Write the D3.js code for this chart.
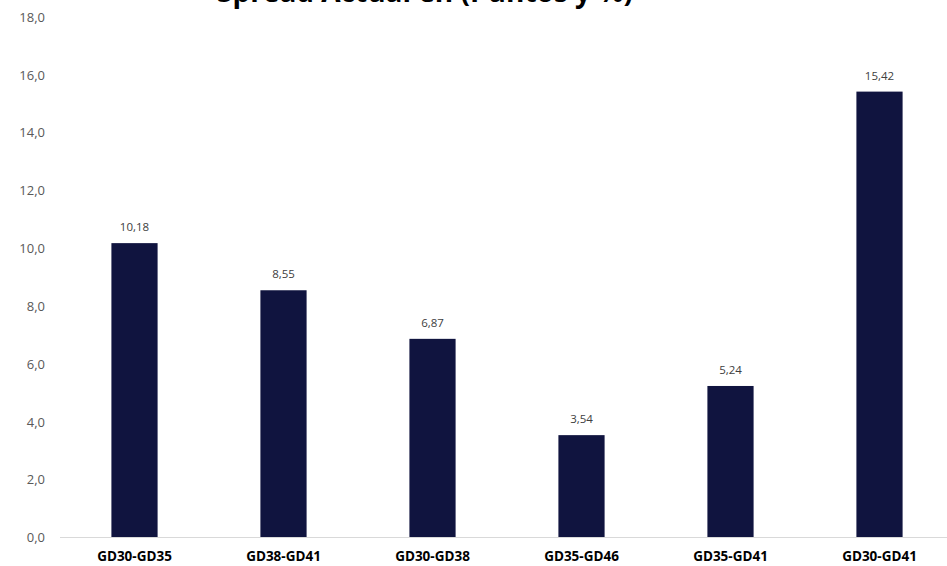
<!DOCTYPE html>
<html>
<head>
<meta charset="utf-8">
<script src="https://cdn.jsdelivr.net/npm/d3@7"></script>
<style>
  body { margin: 0; background: #ffffff; }
</style>
</head>
<body>
<div id="canvas"></div>
<script>
const pares = ['GD30-GD35', 'GD38-GD41', 'GD30-GD38', 'GD35-GD46', 'GD35-GD41', 'GD30-GD41'],
    spread = [10.18, 8.55, 6.87, 3.54, 5.24, 15.42],
    yTicks = [0, 2, 4, 6, 8, 10, 12, 14, 16, 18];

const w = 947,
    h = 566,
    barColor = '#10143f',
    svg = d3.select('#canvas').append('svg')
        .attr('width', w)
        .attr('height', h)
        .style('display', 'block');

const coma = d => d.toFixed(1).replace('.', ','),
    coma2 = d => d.toFixed(2).replace('.', ',');

const x = d3.scaleBand()
    .domain(pares)
    .range([60, 954])
    .paddingInner(0.69)
    .paddingOuter(0.345);

const y = d3.scaleLinear()
    .domain([0, 18])
    .range([537.5, 17]);

// title (cut at the top edge, as in the original)
svg.append('text')
    .attr('x', 425)
    .attr('y', 1.5)
    .attr('text-anchor', 'middle')
    .attr('font-family', 'Open Sans')
    .attr('font-size', '28px')
    .attr('font-weight', 700)
    .attr('fill', '#000')
    .text('Spread Actual en (Puntos y %)');

// y ticks
svg.append('g')
    .attr('transform', 'translate(45,0)')
    .call(d3.axisLeft(y).tickValues(yTicks).tickFormat(coma).tickSize(0).tickPadding(0))
    .call(g => g.select('.domain').remove())
    .selectAll('text')
    .attr('font-family', 'Open Sans')
    .attr('font-size', '13px')
    .attr('fill', '#595959');

// bars
svg.selectAll('rect.bar')
    .data(spread)
    .join('rect')
    .attr('class', 'bar')
    .attr('x', (d, i) => x(pares[i]))
    .attr('y', d => y(d))
    .attr('width', x.bandwidth())
    .attr('height', d => y(0) - y(d))
    .attr('fill', barColor);

// value labels
svg.selectAll('text.val')
    .data(spread)
    .join('text')
    .attr('class', 'val')
    .attr('x', (d, i) => x(pares[i]) + x.bandwidth() / 2)
    .attr('y', d => y(d) - 12)
    .attr('text-anchor', 'middle')
    .attr('font-family', 'Open Sans')
    .attr('font-size', '11.5px')
    .attr('fill', '#404040')
    .text(coma2);

// x axis
svg.append('g')
    .attr('transform', 'translate(0,' + y(0) + ')')
    .call(d3.axisBottom(x).tickSize(0).tickPadding(14))
    .call(g => g.select('.domain').attr('stroke', '#d9d9d9').attr('d', 'M60,0H947'))
    .selectAll('text')
    .attr('font-family', 'Open Sans')
    .attr('font-size', '13.5px')
    .attr('font-weight', 700)
    .attr('fill', '#000');
</script>
</body>
</html>
